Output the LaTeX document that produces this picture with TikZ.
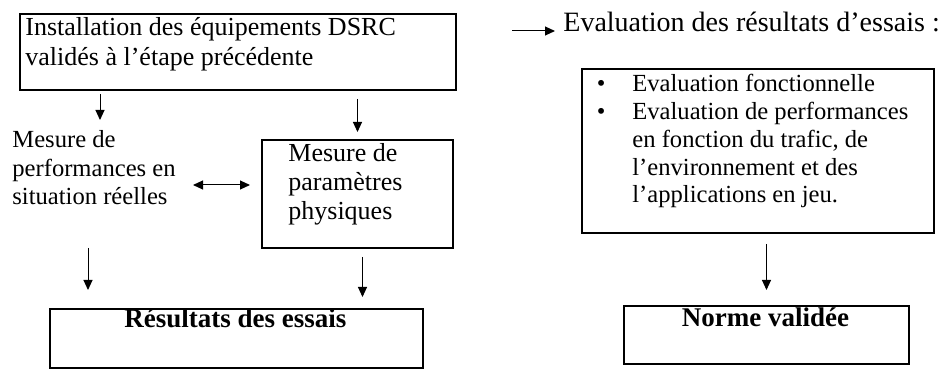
\documentclass[tikz,border=0pt]{standalone}
\usepackage{fontspec}
\setmainfont{Liberation Serif}
\usetikzlibrary{arrows.meta}

\begin{document}
\begin{tikzpicture}[x=0.5pt, y=-0.5pt,
        boite/.style={draw, line width=1pt, anchor=north west, inner sep=0pt},
        texte/.style={inner sep=0pt, anchor=base west, align=left},
        gras/.style={inner sep=0pt, anchor=base, font=\fontsize{13.5}{16}\selectfont\bfseries},
        fleche/.style={-{Triangle[length=5pt, width=4.5pt]}, line width=0.5pt},
        dfleche/.style={{Triangle[length=5pt, width=4.5pt]}-{Triangle[length=5pt, width=4.5pt]}, line width=0.5pt}]
            \useasboundingbox (0,0) rectangle (950,369);
            % boites
            \node[boite, minimum width=218pt, minimum height=38pt] (install) at (19,13) {};
            \node[boite, minimum width=95.5pt, minimum height=54pt] (mesure) at (261,139) {};
            \node[boite, minimum width=186.5pt, minimum height=29.5pt] (resultats) at (49,308) {};
            \node[boite, minimum width=176pt, minimum height=82pt] (eval) at (581,68) {};
            \node[boite, minimum width=142.5pt, minimum height=29pt] (norme) at (623,305) {};
            % textes (base = derniere ligne)
            \node[texte, font=\fontsize{13}{15}\selectfont] (t_install) at (25,66)
                {Installation des équipements DSRC\\validés à l’étape précédente};
            \node[texte, font=\fontsize{14}{16}\selectfont] (titre) at (563,32)
                {Evaluation des résultats d’essais :};
            \node[texte, font=\fontsize{12.3}{14.25}\selectfont] (perf) at (12,205)
                {Mesure de\\performances en\\situation réelles};
            \node[texte, font=\fontsize{13}{14.5}\selectfont] (t_mesure) at (288,220)
                {Mesure de\\paramètres\\physiques};
            \node[texte, font=\fontsize{12.3}{13.875}\selectfont] (t_eval) at (632,203)
                {\llap{\textbullet\hspace{13.5pt}}Evaluation fonctionnelle\\
                 \llap{\textbullet\hspace{13.5pt}}Evaluation de performances\\
                 en fonction du trafic, de\\l’environnement et des\\l’applications en jeu.};
            \node[gras] (t_resultats) at (235.5,328) {Résultats des essais};
            \node[gras] (t_norme) at (765.5,327) {Norme validée};
            % fleches
            \coordinate (a1) at (100,94);
            \coordinate (a2) at (100,120);
            \coordinate (b1) at (88,248);
            \coordinate (c1) at (193,185);
            \coordinate (d1) at (512,31);
            \draw[fleche] (a1) -- (a2);
            \draw[fleche, shorten <=4pt, shorten >=3.5pt] (install.south -| mesure.north) -- (mesure.north);
            \draw[dfleche, shorten >=5.5pt] (c1) -- (c1 -| mesure.west);
            \draw[fleche, shorten >=9pt] (b1) -- (b1 |- resultats.north);
            \draw[fleche, shorten <=4pt, shorten >=5.5pt] ([xshift=2.5pt]mesure.south) -- ([xshift=2.5pt]mesure.south |- resultats.north);
            \draw[fleche, shorten >=4pt] (d1) -- (d1 -| titre.west);
            \draw[fleche, shorten <=5pt, shorten >=7.5pt] (eval.south -| norme.north) -- (norme.north);
        \end{tikzpicture}
\end{document}
